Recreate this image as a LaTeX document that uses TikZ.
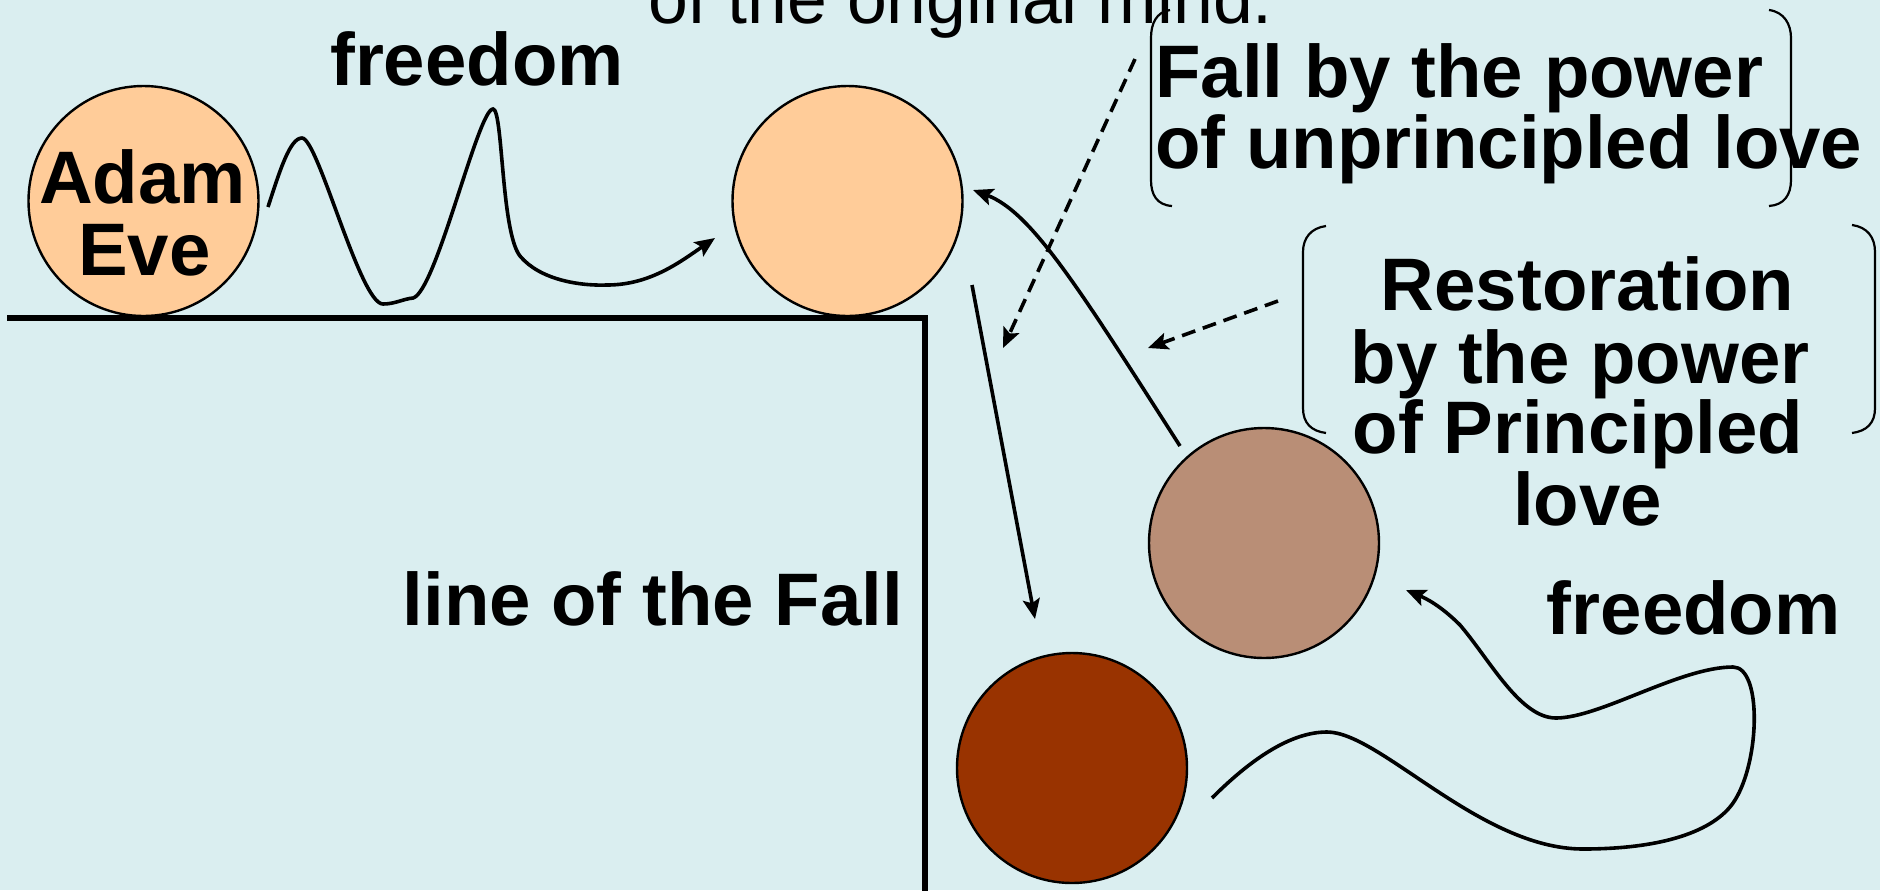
\documentclass[tikz,border=0pt]{standalone}
\usepackage{fontspec}
\setmainfont{Liberation Sans}
\usetikzlibrary{arrows.meta}
\definecolor{bg}{RGB}{218,238,240}
\definecolor{peach}{RGB}{255,204,153}
\definecolor{tanball}{RGB}{185,142,118}
\definecolor{darkball}{RGB}{153,51,0}
\begin{document}
\begin{tikzpicture}[x=0.5pt,y=-0.5pt,
  ball/.style={circle, draw=black, line width=1.2pt, minimum size=115pt, inner sep=0pt},
  big/.style={font=\fontsize{37.2}{36}\selectfont\bfseries, inner sep=0pt, text=black},
  plain/.style={font=\fontsize{35.8}{36}\selectfont, inner sep=0pt, text=black},
  ground/.style={line width=3pt, line cap=rect},
  conn/.style={line width=1.8pt, -{Stealth[length=10pt,width=8.5pt,inset=2pt]}},
  dconn/.style={conn, dash pattern=on 7pt off 4pt},
  brack/.style={line width=1.1pt}]
\fill[bg] (0,0) rectangle (1880,890);
\useasboundingbox (0,0) rectangle (1880,890);

% ground / line of the Fall
\draw[ground] (10,318) -| (925,895);

% balls
\node[ball, fill=peach] (adam) at (143.5,201) {};
\node[ball, fill=peach] (orig) at (847.5,201) {};
\node[ball, fill=tanball] (rest) at (1264,543) {};
\node[ball, fill=darkball] (fallen) at (1072,768) {};

% texts
\node[plain, anchor=base] (mind) at (960.5,23) {of the original mind.};
\node[big, anchor=base] (free1) at (477,85) {freedom};
\node[big, anchor=base] (adamt) at (142.5,203) {Adam};
\node[big, anchor=base] (evet) at (144.5,275) {Eve};
\node[big, anchor=base] (linefall) at (652.75,625.5) {line of the Fall};
\node[big, anchor=base west] (fallA) at (1155,97) {Fall by the power};
\node[big, anchor=base west] (fallB) at (1155,168.6) {of unprincipled love};
\node[big, anchor=base] (restA) at (1587.5,310.7) {Restoration};
\node[big, anchor=base] (restB) at (1580,383) {by the power};
\node[big, anchor=base] (restC) at (1578,453.6) {of Principled};
\node[big, anchor=base] (restD) at (1587.5,525) {love};
\node[big, anchor=base] (free2) at (1693.7,634) {freedom};

% brackets
\draw[brack] (1170,10) .. controls (1156,12) and (1151,24) .. (1151,38) -- (1151,180)
  .. controls (1151,195) and (1157,205) .. (1172,206);
\draw[brack] (1769,10) .. controls (1784,12) and (1791,24) .. (1791,38) -- (1791,180)
  .. controls (1791,195) and (1784,205) .. (1769,206);
\draw[brack] (1326,226) .. controls (1311,228) and (1303,238) .. (1303,252) -- (1303,408)
  .. controls (1303,423) and (1311,431) .. (1326,433);
\draw[brack] (1852,225) .. controls (1867,227) and (1875,237) .. (1875,252) -- (1875,408)
  .. controls (1875,423) and (1867,431) .. (1852,433);

% connector end points
\coordinate (w1s) at (268,207);
\coordinate (w1e) at (715,238);
\coordinate (fs) at (972,285);
\coordinate (fe) at (1035,619);
\coordinate (rs) at (1180,446);
\coordinate (re) at (973,190);
\coordinate (w2s) at (1212,798);
\coordinate (w2e) at (1406,590);
\coordinate (d1s) at (1135,59);
\coordinate (d1e) at (1003,348);
\coordinate (d2s) at (1278,301);
\coordinate (d2e) at (1148,348);

% wave 1: Adam -> original
\draw[conn] (w1s) .. controls (280,170) and (290,138) .. (302,138)
  .. controls (318,138) and (360,304) .. (383,304)
  .. controls (395,304) and (403,299) .. (413,298)
  .. controls (436,292) and (478,109) .. (493,109)
  .. controls (503,109) and (501,232) .. (520,256)
  .. controls (540,280) and (580,286) .. (607,285)
  .. controls (650,285) and (680,262) .. (w1e);

% fall
\draw[conn] (fs) -- (fe);
% restoration
\draw[conn] (rs) .. controls (1080,290) and (1032,212) .. (re);
% dashed
\draw[dconn] (d1s) -- (d1e);
\draw[dconn] (d2s) -- (d2e);

% wave 2: fallen -> restored
\draw[conn] (w2s) .. controls (1250,760) and (1290,732) .. (1327,732)
  .. controls (1380,732) and (1480,849) .. (1583,849)
  .. controls (1670,849) and (1718,828) .. (1735,800)
  .. controls (1760,760) and (1762,667) .. (1733,667)
  .. controls (1680,667) and (1600,718) .. (1556,718)
  .. controls (1520,718) and (1490,660) .. (1460,625)
  .. controls (1440,605) and (1425,598) .. (w2e);
\end{tikzpicture}
\end{document}
